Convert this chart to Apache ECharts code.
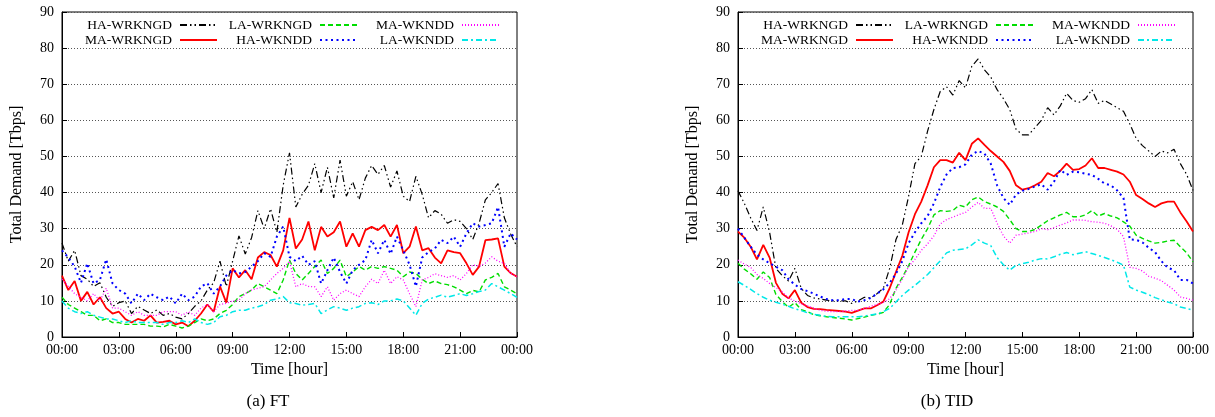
<!DOCTYPE html>
<html>
<head>
<meta charset="utf-8">
<script src="https://cdn.jsdelivr.net/npm/echarts@6/dist/echarts.min.js"></script>
<style>html,body{margin:0;padding:0;background:#fff}#c{width:1215px;height:417px}</style>
</head>
<body>
<div id="c"></div>
<script>
// Time grid: one sample every 20 minutes, 00:00 .. 24:00 (73 points)
const times = Array.from({length: 73}, (_, i) => i / 3);
const xTicks = ['00:00','03:00','06:00','09:00','12:00','15:00','18:00','21:00','00:00'];
const seriesNames = ['HA-WRKNGD','MA-WRKNGD','LA-WRKNGD','HA-WKNDD','MA-WKNDD','LA-WKNDD'];

// ---- (a) FT ----
const ft_HA_WRKNGD = [26,21,24, 17,16,14, 15,11,8.5, 9.5,10,6.5, 8.5,7.5,6.5, 7.5,6,6.5, 5.5,5,6.5, 8.5,10,13,
  15,21,14, 21,28,23, 27.5,35,30, 35.5,29,42, 51,36,39.5, 42,48,40, 47,38.5,49, 39,43,38,
  44,47.5,45, 47.5,41.5,46, 39,37.5,44.5, 39.5,33,35, 34,31.5,32.5, 32,30,27, 31.5,38,40, 42.5,33,28.5, 25];
const ft_MA_WRKNGD = [17,13,15.5, 10,12.5,9, 11,8,6.5, 7,5,4, 5,4.5,6, 4,4.2,4.5, 3.5,4,3, 4.5,6.5,9,
  7,14,9.5, 19,16.5,18.5, 16,22,23.5, 22.7,19.5,24, 33,24.5,27, 32,24,30.5, 27.8,29,32, 25,28.7,25,
  29.6,30.5,29.6, 31,27.8,31, 23.2,25,30.6, 24,24.6,22, 20.4,24,23.5, 23.2,20.4,17.2, 19.5,26.8,27, 27.3,19.5,17.7, 16.7];
const ft_LA_WRKNGD = [11,9,8, 7,6,6, 4.5,5,4, 4,3.5,3.5, 3.5,3.5,3, 3,2.8,3.5, 3,2.5,3, 4,5,4.5,
  5,6.5,7.4, 9,11.2,12, 13,14.8,13.9, 13,12,15.8, 21.3,17.6,15.8, 17.6,19.5,21.3, 17.6,19,21.3, 16.7,18,19.5,
  18.5,19.5,19, 19.5,19,18.5, 16.7,18,17.6, 16,14.8,15.5, 14.8,14.5,13.9, 13,12,12.9, 12.5,15.8,16.5, 17.6,13.9,13, 12];
const ft_HA_WKNDD = [24,22,19.5, 15,20.4,14.8, 15.8,21.5,14.8, 13,12,9.3, 12,10.2,12, 11,10.2,11.2, 9.3,12,10.2, 11.2,14,14.9,
  12,14,17, 18.5,17.6,18, 19.5,21,23.2, 22.2,27.8,30.6, 22.2,21,22.5, 20,21,14.8, 18.5,22,18, 14.8,18.5,20,
  21.3,26.9,23.2, 26.9,23,27.8, 24,20,14, 22,23.5,24.5, 26.9,26,27.8, 25,28.7,31.5, 30.6,31,31.5, 36,25,28.7, 27];
const ft_MA_WKNDD = [16,14,12, 11,10,12, 10,13.5,8, 8,7,6, 7,6,6, 6,7,7, 7,6,7, 6,8,9,
  7,9,9.3, 10,10.2,12, 13,13.5,13.9, 15.8,17.6,19, 21,13.9,14.8, 14,13.9,11.2, 13.9,10.2,12, 13,12,11.2,
  13.9,16,14.8, 18.5,14.8,16.7, 15.8,12,8.4, 15.8,16.5,17.5, 17,16.5,17, 15.8,17.6,20, 19.5,20.5,22.2, 21,20.4,17.6, 16.7];
const ft_LA_WKNDD = [10,8,7, 6.5,7,6, 5.5,5,5, 4.5,4,4.5, 4,4,4, 4,3.5,4, 4,4.5,4, 5,4,3.5,
  4,5.6,6, 7,7.4,7.4, 8,8.4,9, 10.2,10.5,11.2, 9.5,9.3,8.8, 9,9.3,6.5, 7.5,8.4,8, 7.4,8,8.4,
  9.3,9.5,9, 10,10,10.5, 10,8,6, 9.3,10.5,11, 11.6,11,11.5, 12,11.5,12, 12.6,13,14.8, 13.9,13,12, 11];

// ---- (b) TID ----
const tid_HA_WRKNGD = [40.5,37,33, 29.5,36,29, 19,17,15.5, 19,13.5,11.5, 10.8,10.5,10.2, 10,10,10, 9.3,10,11, 10.8,12,13.5,
  19,27,31, 39,48,50, 57,63,68, 69.3,67,71, 69,75,77, 74,72,68.5, 66,63,57.5, 56,56,58,
  60,63.5,61.5, 64,67.5,65.5, 65,66,68.5, 64.7,65.5,64.5, 63.5,62.5,59, 55,53,51.5, 50,51.5,51, 52,48,45, 40.6];
const tid_MA_WRKNGD = [29.2,27.5,25, 21.5,25.5,22, 15,12,10.7, 13,9.5,8.3, 7.8,7.7,7.5, 7.4,7.2,7, 6.7,7.3,7.9, 7.9,8.8,9.8,
  13.5,18,22.5, 29,34,37.5, 42,47,49, 49,48.3,51, 49,53.5,55, 53.2,51.5,50, 48.5,46,42, 40.8,41.2,42,
  43,45.4,44.5, 46,48,46.3, 46.5,47.5,49.5, 46.8,46.8,46.3, 45.8,45,43, 39.3,38.2,37, 36,37,37.5, 37.5,34.5,32, 29.2];
const tid_LA_WRKNGD = [20.4,18.8,17.5, 16,18,16.5, 11.8,9.8,8.2, 9.5,7.6,7, 6.2,5.9,5.6, 5.4,5.2,5, 4.7,5.1,5.5, 6,6.3,6.8,
  9,13.5,16.5, 19.8,23.5,27, 30,33.8,35, 34.8,35,36.5, 36,38,38.8, 37.5,36.8,36, 34.8,32.5,30, 29.2,29.2,29.8,
  31,32.2,33, 33.8,34.5,33.3, 33.3,33.8,35, 33.5,34.2,33.5, 33,31.9,30.7, 28.2,27.3,26.6, 26,26.2,26.6, 26.8,25,23.3, 20.8];
const tid_HA_WKNDD = [30,27.5,25, 22.8,21.5,20.4, 19.5,18.5,16, 14.5,13.3,12.7, 12,11.2,10.5, 10.2,10.2,10.5, 10.5,9.8,10.2, 10.8,12,13.2,
  15,17.5,21, 26,29,31.5, 33.5,37,41.5, 45,46.8,47, 47.8,50.5,51.5, 50.8,48,42, 38.5,36.6,39.5, 40.5,41,41.7,
  42.3,40.8,43, 46.3,44.9,45.8, 45.6,45.2,44.9, 43.8,42.5,42, 40.6,38.5,27, 26.9,26.2,24.7, 23.5,21,19.2, 18.5,15.8,15.8, 14.8];
const tid_MA_WKNDD = [21.3,20.2,19.3, 17.3,16.2,14.8, 13.7,12.5,10.8, 10,9.2,8.6, 8,7.4,7.1, 7,7,7.2, 7.4,7.4,7.9, 8.5,9,9.6,
  10.6,13,16, 19.5,21.5,24, 25.8,28,31.3, 32.5,33.2,33.9, 34.5,36,37.3, 35.6,35.6,31.5, 28,26,28.2, 28.5,28.8,29.2,
  30,29.7,30.3, 31,31.6,32.4, 32.4,32.3,31.9, 31.8,31.5,30.8, 29.8,27.8,19.3, 19,18.3,16.8, 16.3,15.6,14.3, 13,11.1,10.7, 10.2];
const tid_LA_WKNDD = [15.3,14.3,13.2, 12,11,10.2, 9.6,9.1,8.5, 7.8,7.3,6.7, 6.3,6,5.7, 5.6,5.6,5.6, 5.6,5.6,5.8, 6.1,6.4,7,
  7.9,9.7,11.5, 13,14.3,15.8, 17.3,19.2,21.1, 23.3,24,24.2, 24.4,25.5,26.9, 26,25.3,22, 20,18.5,19.9, 20.3,20.7,21.3,
  21.7,21.6,22.2, 22.9,23.4,22.8, 23.2,23.6,23.1, 22.6,22,21.4, 20.7,19.9,13.8, 13,12.4,11.7, 10.9,10.3,9.7, 9.2,8.3,7.9, 7.4];

const ftData = [ft_HA_WRKNGD, ft_MA_WRKNGD, ft_LA_WRKNGD, ft_HA_WKNDD, ft_MA_WKNDD, ft_LA_WKNDD];
const tidData = [tid_HA_WRKNGD, tid_MA_WRKNGD, tid_LA_WRKNGD, tid_HA_WKNDD, tid_MA_WKNDD, tid_LA_WKNDD];

const FONT = "'Liberation Serif','DejaVu Serif',serif";
const lineStyles = {
  'HA-WRKNGD': {color: '#000000', width: 1.2, type: [7, 3, 1.5, 3, 1.5, 3]},
  'MA-WRKNGD': {color: '#ff0000', width: 1.8, type: 'solid'},
  'LA-WRKNGD': {color: '#00dd00', width: 1.4, type: [5, 3]},
  'HA-WKNDD':  {color: '#0000ff', width: 2, type: [2, 3.5]},
  'MA-WKNDD':  {color: '#ff00ff', width: 1.3, type: [1, 2]},
  'LA-WKNDD':  {color: '#00e8e8', width: 1.5, type: [6, 3, 2, 3]}
};

const grids = [
  {left: 62, top: 12, width: 455, bottom: 80, show: true, borderColor: '#000', borderWidth: 1},
  {left: 738, top: 12, width: 455, bottom: 80, show: true, borderColor: '#000', borderWidth: 1}
];

function xAxis(gi) {
  return {
    type: 'value', gridIndex: gi, min: 0, max: 24, interval: 3,
    name: 'Time [hour]', nameLocation: 'middle', nameGap: 24,
    nameTextStyle: {fontFamily: FONT, fontSize: 16, color: '#000'},
    axisLine: {lineStyle: {color: '#000', width: 1}},
    axisTick: {inside: true, length: 5, lineStyle: {color: '#000'}},
    axisLabel: {fontFamily: FONT, fontSize: 14, color: '#000', margin: 6,
      formatter: v => xTicks[Math.round(v / 3)]},
    splitLine: {show: false}
  };
}
function yAxis(gi) {
  return {
    type: 'value', gridIndex: gi, min: 0, max: 90, interval: 10,
    name: 'Total Demand [Tbps]', nameLocation: 'middle', nameGap: 37,
    nameTextStyle: {fontFamily: FONT, fontSize: 16, color: '#000'},
    axisLine: {show: true, lineStyle: {color: '#000', width: 1}},
    axisTick: {show: true, inside: true, length: 5, lineStyle: {color: '#000'}},
    axisLabel: {fontFamily: FONT, fontSize: 14, color: '#000', margin: 8},
    splitLine: {show: true, lineStyle: {color: '#555', width: 1, type: [1, 2]}}
  };
}

const series = [];
[ftData, tidData].forEach((set, gi) => {
  set.forEach((vals, k) => {
    const name = seriesNames[k];
    series.push({
      name: name, type: 'line', xAxisIndex: gi, yAxisIndex: gi,
      data: vals.map((v, i) => [times[i], v]),
      symbol: 'none', showSymbol: false, animation: false,
      lineStyle: lineStyles[name], itemStyle: {color: lineStyles[name].color},
      z: 2 + k
    });
  });
});

// legend layout: 3 columns x 2 rows, text right-aligned before the line sample
const legendCols = [['HA-WRKNGD', 'MA-WRKNGD'], ['LA-WRKNGD', 'HA-WKNDD'], ['MA-WKNDD', 'LA-WKNDD']];
const colRights = [[997, 857, 715], [321, 181, 39]];
const rowTops = [18, 33];
const legends = [];
colRights.forEach(rights => {
  legendCols.forEach((col, ci) => {
    col.forEach((name, ri) => {
      legends.push({
        data: [name], right: rights[ci], top: rowTops[ri], orient: 'horizontal',
        align: 'right', itemWidth: 37, itemHeight: 10, itemGap: 0, padding: 0,
        selectedMode: false,
        itemStyle: {opacity: 0, color: 'rgba(0,0,0,0)', borderColor: 'rgba(0,0,0,0)', borderWidth: 0},
        textStyle: {fontFamily: FONT, fontSize: 13.5, color: '#000', padding: [0, 3, 0, 0]}
      });
    });
  });
});

const chart = echarts.init(document.getElementById('c'), null, {renderer: 'canvas'});
chart.setOption({
  backgroundColor: '#fff',
  animation: false,
  title: [
    {text: '(a) FT', left: 263, top: 388, textAlign: 'center',
     textStyle: {fontFamily: FONT, fontSize: 17, fontWeight: 'normal', color: '#000'}},
    {text: '(b) TID', left: 942, top: 388, textAlign: 'center',
     textStyle: {fontFamily: FONT, fontSize: 17, fontWeight: 'normal', color: '#000'}}
  ],
  grid: grids,
  xAxis: [xAxis(0), xAxis(1)],
  yAxis: [yAxis(0), yAxis(1)],
  legend: legends,
  series: series
});
</script>
</body>
</html>
